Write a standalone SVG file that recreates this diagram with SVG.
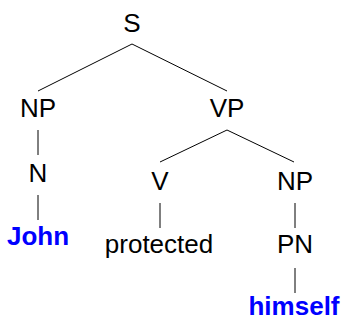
<svg xmlns="http://www.w3.org/2000/svg" width="345" height="320" viewBox="0 0 345 320">
<style>
.t{font-family:"Liberation Sans",Arial,sans-serif;font-size:26px;fill:#000;text-anchor:middle}
.w{font-weight:bold;fill:#0000ff}
.e{stroke:#000;stroke-width:1;fill:none}
</style>
<rect width="345" height="320" fill="#fff"/>
<g id="edges">
<line class="e" x1="132" y1="44" x2="38" y2="91"/>
<line class="e" x1="132" y1="44" x2="227" y2="91"/>
<line class="e" x1="38" y1="130" x2="38" y2="155"/>
<line class="e" x1="38" y1="195" x2="38" y2="220"/>
<line class="e" x1="227" y1="130" x2="160" y2="162"/>
<line class="e" x1="227" y1="130" x2="294" y2="162"/>
<line class="e" x1="160" y1="203" x2="160" y2="228"/>
<line class="e" x1="295" y1="203" x2="295" y2="228"/>
<line class="e" x1="295" y1="268" x2="295" y2="293"/>
</g>
<g id="S"><text class="t" x="132" y="32">S</text></g>
<g id="NP1"><text class="t" x="38" y="117">NP</text></g>
<g id="VP"><text class="t" x="227" y="117">VP</text></g>
<g id="N"><text class="t" x="38" y="182">N</text></g>
<g id="John"><text class="t w" x="38" y="245">John</text></g>
<g id="V"><text class="t" x="160" y="190">V</text></g>
<g id="NP2"><text class="t" x="295" y="190">NP</text></g>
<g id="protected"><text class="t" x="159" y="253">protected</text></g>
<g id="PN"><text class="t" x="295" y="253">PN</text></g>
<g id="himself"><text class="t w" x="294" y="315">himself</text></g>
</svg>
